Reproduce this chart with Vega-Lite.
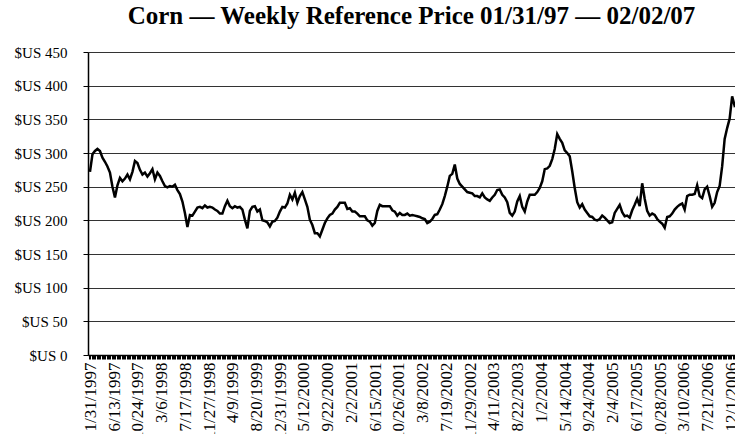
{
  "$schema": "https://vega.github.io/schema/vega-lite/v6.json",
  "width": 647,
  "height": 303,
  "autosize": {"type": "none"},
  "padding": {"left": 88, "top": 52, "right": 0, "bottom": 79},
  "background": "white",
  "title": {"text": "Corn — Weekly Reference Price 01/31/97 — 02/02/07", "font": "Liberation Serif", "fontSize": 25, "fontWeight": "bold", "color": "black", "anchor": "middle", "offset": 16},
  "data": {"values": [
{"d":"1997-01-31","p":272},{"d":"1997-02-14","p":298},{"d":"1997-02-28","p":303},{"d":"1997-03-14","p":306},{"d":"1997-03-28","p":303},{"d":"1997-04-11","p":293},{"d":"1997-04-25","p":287},{"d":"1997-05-09","p":280},{"d":"1997-05-23","p":271},{"d":"1997-06-06","p":250},{"d":"1997-06-20","p":234},{"d":"1997-07-04","p":252},{"d":"1997-07-18","p":263},{"d":"1997-08-01","p":258},{"d":"1997-08-15","p":262},{"d":"1997-08-29","p":268},{"d":"1997-09-12","p":261},{"d":"1997-09-26","p":272},{"d":"1997-10-10","p":288},{"d":"1997-10-24","p":285},{"d":"1997-11-07","p":275},{"d":"1997-11-21","p":268},{"d":"1997-12-05","p":271},{"d":"1997-12-19","p":265},
{"d":"1998-01-02","p":270},{"d":"1998-01-16","p":276},{"d":"1998-01-30","p":261},{"d":"1998-02-13","p":271},{"d":"1998-02-27","p":266},{"d":"1998-03-13","p":258},{"d":"1998-03-27","p":251},{"d":"1998-04-10","p":249},{"d":"1998-04-24","p":251},{"d":"1998-05-08","p":250},{"d":"1998-05-22","p":253},{"d":"1998-06-05","p":245},{"d":"1998-06-19","p":239},{"d":"1998-07-03","p":228},{"d":"1998-07-17","p":211},{"d":"1998-07-31","p":190},{"d":"1998-08-14","p":208},{"d":"1998-08-28","p":207},{"d":"1998-09-11","p":213},{"d":"1998-09-25","p":219},{"d":"1998-10-09","p":220},{"d":"1998-10-23","p":218},{"d":"1998-11-06","p":222},{"d":"1998-11-20","p":219},{"d":"1998-12-04","p":220},{"d":"1998-12-18","p":219},
{"d":"1999-01-01","p":216},{"d":"1999-01-15","p":214},{"d":"1999-01-29","p":210},{"d":"1999-02-12","p":210},{"d":"1999-02-26","p":221},{"d":"1999-03-12","p":229},{"d":"1999-03-26","p":221},{"d":"1999-04-09","p":218},{"d":"1999-04-23","p":221},{"d":"1999-05-07","p":219},{"d":"1999-05-21","p":220},{"d":"1999-06-04","p":216},{"d":"1999-06-18","p":201},{"d":"1999-07-02","p":188},{"d":"1999-07-16","p":214},{"d":"1999-07-30","p":220},{"d":"1999-08-13","p":221},{"d":"1999-08-27","p":213},{"d":"1999-09-10","p":216},{"d":"1999-09-24","p":200},{"d":"1999-10-08","p":199},{"d":"1999-10-22","p":197},{"d":"1999-11-05","p":191},{"d":"1999-11-19","p":198},{"d":"1999-12-03","p":199},{"d":"1999-12-17","p":204},{"d":"1999-12-31","p":213},
{"d":"2000-01-14","p":220},{"d":"2000-01-28","p":219},{"d":"2000-02-11","p":225},{"d":"2000-02-25","p":238},{"d":"2000-03-10","p":231},{"d":"2000-03-24","p":241},{"d":"2000-04-07","p":226},{"d":"2000-04-21","p":236},{"d":"2000-05-05","p":242},{"d":"2000-05-19","p":231},{"d":"2000-06-02","p":220},{"d":"2000-06-16","p":201},{"d":"2000-06-30","p":193},{"d":"2000-07-14","p":181},{"d":"2000-07-28","p":181},{"d":"2000-08-11","p":176},{"d":"2000-08-25","p":186},{"d":"2000-09-08","p":196},{"d":"2000-09-22","p":203},{"d":"2000-10-06","p":208},{"d":"2000-10-20","p":210},{"d":"2000-11-03","p":216},{"d":"2000-11-17","p":220},{"d":"2000-12-01","p":226},{"d":"2000-12-15","p":226},{"d":"2000-12-29","p":226},
{"d":"2001-01-12","p":217},{"d":"2001-01-26","p":218},{"d":"2001-02-09","p":213},{"d":"2001-02-23","p":213},{"d":"2001-03-09","p":210},{"d":"2001-03-23","p":206},{"d":"2001-04-06","p":206},{"d":"2001-04-20","p":206},{"d":"2001-05-04","p":200},{"d":"2001-05-18","p":198},{"d":"2001-06-01","p":192},{"d":"2001-06-15","p":196},{"d":"2001-06-29","p":214},{"d":"2001-07-13","p":223},{"d":"2001-07-27","p":221},{"d":"2001-08-10","p":221},{"d":"2001-08-24","p":221},{"d":"2001-09-07","p":221},{"d":"2001-09-21","p":215},{"d":"2001-10-05","p":213},{"d":"2001-10-19","p":207},{"d":"2001-11-02","p":211},{"d":"2001-11-16","p":208},{"d":"2001-11-30","p":208},{"d":"2001-12-14","p":210},{"d":"2001-12-28","p":207},
{"d":"2002-01-11","p":208},{"d":"2002-01-25","p":207},{"d":"2002-02-08","p":206},{"d":"2002-02-22","p":205},{"d":"2002-03-08","p":203},{"d":"2002-03-22","p":202},{"d":"2002-04-05","p":196},{"d":"2002-04-19","p":198},{"d":"2002-05-03","p":202},{"d":"2002-05-17","p":208},{"d":"2002-05-31","p":209},{"d":"2002-06-14","p":216},{"d":"2002-06-28","p":224},{"d":"2002-07-12","p":236},{"d":"2002-07-26","p":250},{"d":"2002-08-09","p":266},{"d":"2002-08-23","p":269},{"d":"2002-09-06","p":283},{"d":"2002-09-20","p":262},{"d":"2002-10-04","p":254},{"d":"2002-10-18","p":250},{"d":"2002-11-01","p":246},{"d":"2002-11-15","p":242},{"d":"2002-11-29","p":241},{"d":"2002-12-13","p":240},{"d":"2002-12-27","p":236},
{"d":"2003-01-10","p":236},{"d":"2003-01-24","p":234},{"d":"2003-02-07","p":240},{"d":"2003-02-21","p":234},{"d":"2003-03-07","p":231},{"d":"2003-03-21","p":229},{"d":"2003-04-04","p":234},{"d":"2003-04-18","p":238},{"d":"2003-05-02","p":245},{"d":"2003-05-16","p":246},{"d":"2003-05-30","p":238},{"d":"2003-06-13","p":234},{"d":"2003-06-27","p":227},{"d":"2003-07-11","p":211},{"d":"2003-07-25","p":207},{"d":"2003-08-08","p":213},{"d":"2003-08-22","p":228},{"d":"2003-09-05","p":236},{"d":"2003-09-19","p":220},{"d":"2003-10-03","p":213},{"d":"2003-10-17","p":228},{"d":"2003-10-31","p":238},{"d":"2003-11-14","p":238},{"d":"2003-11-28","p":238},{"d":"2003-12-12","p":242},{"d":"2003-12-26","p":248},
{"d":"2004-01-09","p":258},{"d":"2004-01-23","p":276},{"d":"2004-02-06","p":277},{"d":"2004-02-20","p":281},{"d":"2004-03-05","p":291},{"d":"2004-03-19","p":306},{"d":"2004-04-02","p":328},{"d":"2004-04-16","p":321},{"d":"2004-04-30","p":315},{"d":"2004-05-14","p":304},{"d":"2004-05-28","p":300},{"d":"2004-06-11","p":295},{"d":"2004-06-25","p":273},{"d":"2004-07-09","p":248},{"d":"2004-07-23","p":227},{"d":"2004-08-06","p":219},{"d":"2004-08-20","p":224},{"d":"2004-09-03","p":216},{"d":"2004-09-17","p":211},{"d":"2004-10-01","p":206},{"d":"2004-10-15","p":205},{"d":"2004-10-29","p":201},{"d":"2004-11-12","p":200},{"d":"2004-11-26","p":202},{"d":"2004-12-10","p":207},{"d":"2004-12-24","p":204},
{"d":"2005-01-07","p":200},{"d":"2005-01-21","p":196},{"d":"2005-02-04","p":197},{"d":"2005-02-18","p":211},{"d":"2005-03-04","p":217},{"d":"2005-03-18","p":223},{"d":"2005-04-01","p":212},{"d":"2005-04-15","p":206},{"d":"2005-04-29","p":207},{"d":"2005-05-13","p":204},{"d":"2005-05-27","p":215},{"d":"2005-06-10","p":223},{"d":"2005-06-24","p":232},{"d":"2005-07-08","p":221},{"d":"2005-07-22","p":255},{"d":"2005-08-05","p":232},{"d":"2005-08-19","p":214},{"d":"2005-09-02","p":207},{"d":"2005-09-16","p":210},{"d":"2005-09-30","p":208},{"d":"2005-10-14","p":202},{"d":"2005-10-28","p":198},{"d":"2005-11-11","p":195},{"d":"2005-11-25","p":189},{"d":"2005-12-09","p":205},{"d":"2005-12-23","p":206},
{"d":"2006-01-06","p":210},{"d":"2006-01-20","p":216},{"d":"2006-02-03","p":220},{"d":"2006-02-17","p":223},{"d":"2006-03-03","p":225},{"d":"2006-03-17","p":216},{"d":"2006-03-31","p":236},{"d":"2006-04-14","p":238},{"d":"2006-04-28","p":238},{"d":"2006-05-12","p":239},{"d":"2006-05-26","p":252},{"d":"2006-06-09","p":236},{"d":"2006-06-23","p":233},{"d":"2006-07-07","p":246},{"d":"2006-07-21","p":250},{"d":"2006-08-04","p":236},{"d":"2006-08-18","p":220},{"d":"2006-09-01","p":226},{"d":"2006-09-15","p":242},{"d":"2006-09-29","p":251},{"d":"2006-10-13","p":280},{"d":"2006-10-27","p":321},{"d":"2006-11-10","p":337},{"d":"2006-11-24","p":351},{"d":"2006-12-08","p":384},{"d":"2006-12-22","p":370},
{"d":"2007-01-05","p":372},{"d":"2007-01-19","p":378},{"d":"2007-02-02","p":375}
  ]},
  "mark": {"type": "line", "color": "black", "strokeWidth": 2.5, "clip": true},
  "encoding": {
    "x": {
      "field": "d", "type": "temporal",
      "scale": {"type": "utc", "domain": [{"year": 1997, "month": 1, "date": 20, "utc": true}, {"year": 2006, "month": 12, "date": 24, "utc": true}]},
      "axis": {
        "title": null,
        "tickCount": {"interval": "week", "step": 1},
        "labelExpr": "(round((datum.value - 854841600000) / 604800000) % 19 == 0) ? utcFormat(datum.value - 172800000, '%-m/%-d/%Y') : ''",
        "labelAngle": -90, "labelAlign": "right", "labelBaseline": "middle",
        "labelFont": "Liberation Serif", "labelFontSize": 17, "labelColor": "black",
        "labelPadding": 3, "labelOverlap": false, "labelFlush": false, "labelBound": false,
        "tickColor": "black", "tickSize": 4, "tickWidth": 1,
        "domainColor": "black", "domainWidth": 1.5, "grid": false
      }
    },
    "y": {
      "field": "p", "type": "quantitative",
      "scale": {"domain": [0, 450], "nice": false},
      "axis": {
        "title": null,
        "values": [0, 50, 100, 150, 200, 250, 300, 350, 400, 450],
        "labelExpr": "'$US ' + datum.value",
        "labelFont": "Liberation Serif", "labelFontSize": 15, "labelColor": "black",
        "labelPadding": 16,
        "tickColor": "black", "tickSize": 5, "tickWidth": 1,
        "domainColor": "black", "domainWidth": 1.5,
        "grid": true, "gridColor": "#333333", "gridWidth": 1, "gridOpacity": 1
      }
    }
  },
  "config": {"font": "Liberation Serif", "view": {"stroke": null}}
}
